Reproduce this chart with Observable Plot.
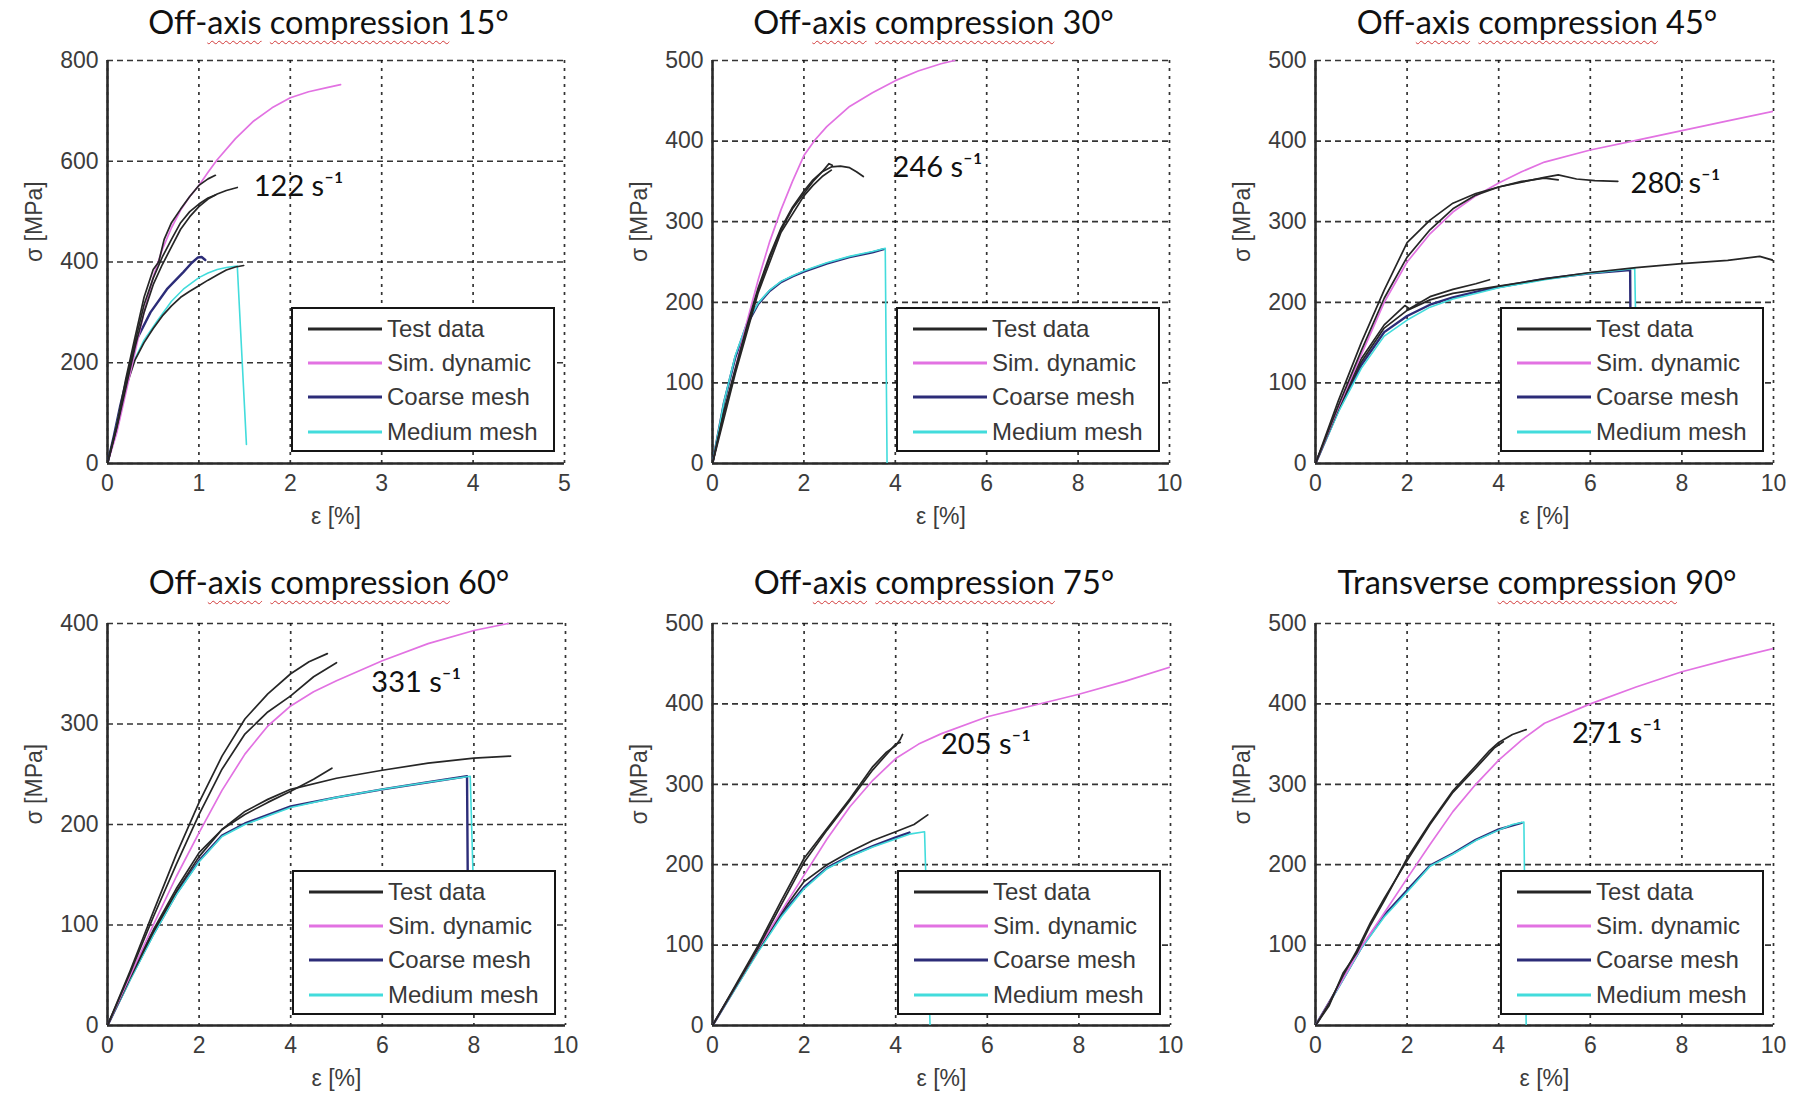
<!DOCTYPE html>
<html><head><meta charset="utf-8">
<script src="https://cdn.jsdelivr.net/npm/d3@7"></script>
<script src="https://cdn.jsdelivr.net/npm/@observablehq/plot@0.6"></script>
<style>
body{margin:0;background:#fff;}
#root{position:relative;width:1798px;height:1094px;overflow:hidden;background:#fff;}
.cell{position:absolute;}
.cell svg{overflow:visible;}
.title{position:absolute;font-family:Lato,"Open Sans",sans-serif;font-size:32.5px;color:#111;white-space:nowrap;transform:translate(-50%,-50%);line-height:1;}
.sq{text-decoration:underline wavy #d23a3a;text-decoration-thickness:1px;text-underline-offset:6px;}
.legend{position:absolute;background:#fff;border:2px solid #151515;box-sizing:border-box;}
.sw{position:absolute;height:3px;transform:translateY(-50%);}
.lt{position:absolute;font-family:"Liberation Sans",Arial,sans-serif;font-size:24px;color:#383838;transform:translateY(-50%);white-space:nowrap;line-height:1;}
</style>
</head><body><div id="root"></div>
<script>
// ---------- data ----------
const titles = ["Off-axis compression 15°","Off-axis compression 30°","Off-axis compression 45°",
                "Off-axis compression 60°","Off-axis compression 75°","Transverse compression 90°"];
const rateLabels = ["122 s⁻¹","246 s⁻¹","280 s⁻¹","331 s⁻¹","205 s⁻¹","271 s⁻¹"];
const rateX = [1.6, 3.94, 6.88, 5.76, 4.99, 5.6];
const rateY = [550, 367, 347, 341, 349, 363];
const xMax = [5, 10, 10, 10, 10, 10];
const yMax = [800, 500, 500, 400, 500, 500];
const xTicks5 = [0,1,2,3,4,5];
const xTicks10 = [0,2,4,6,8,10];
const yTicks800 = [0,200,400,600,800];
const yTicks500 = [0,100,200,300,400,500];
const yTicks400 = [0,100,200,300,400];
const seriesNames = ["Test data","Sim. dynamic","Coarse mesh","Medium mesh"];

// 15°
const p15_test1 = [[0,0],[0.1,75],[0.2,168],[0.3,250],[0.4,330],[0.5,385],[0.56,400],[0.62,445],[0.7,478],[0.8,505],[0.9,530],[1.0,552],[1.1,565],[1.18,572]];
const p15_test2 = [[0,0],[0.1,70],[0.2,150],[0.3,230],[0.4,300],[0.5,355],[0.6,395],[0.7,430],[0.8,465],[0.9,490],[1.0,510],[1.1,525],[1.2,535],[1.3,542],[1.42,548]];
const p15_test3 = [[0,0],[0.1,72],[0.2,158],[0.3,240],[0.4,315],[0.5,368],[0.6,410],[0.7,445],[0.8,478],[0.9,500],[1.0,515],[1.1,527],[1.18,533]];
const p15_test4 = [[0,0],[0.07,50],[0.14,105],[0.2,150],[0.3,205],[0.4,240],[0.5,268],[0.6,293],[0.7,313],[0.8,330],[0.9,342],[1.0,353],[1.1,364],[1.2,374],[1.3,384],[1.4,390],[1.49,393]];
const p15_sim = [[0,0],[0.1,60],[0.2,140],[0.3,220],[0.4,300],[0.5,370],[0.6,425],[0.7,468],[0.8,503],[0.9,530],[1.0,552],[1.1,578],[1.2,603],[1.4,645],[1.6,680],[1.8,706],[2.0,726],[2.2,738],[2.4,746],[2.55,752]];
const p15_coarse = [[0,0],[0.07,55],[0.14,115],[0.22,175],[0.32,246],[0.47,300],[0.65,346],[0.83,380],[0.92,398],[0.99,409],[1.03,410],[1.07,404]];
const p15_medium = [[0,0],[0.07,50],[0.14,110],[0.2,150],[0.28,200],[0.4,245],[0.54,282],[0.7,322],[0.83,346],[1.0,369],[1.1,378],[1.2,385],[1.3,389],[1.42,392],[1.52,38]];
// 30°
const p30_test1 = [[0,0],[0.25,65],[0.5,118],[0.75,170],[1.0,218],[1.25,258],[1.5,292],[1.75,318],[2.0,338],[2.2,352],[2.4,362],[2.6,368],[2.8,369],[3.0,367],[3.15,362],[3.3,356]];
const p30_test2 = [[0,0],[0.25,63],[0.5,115],[0.75,167],[1.0,215],[1.25,255],[1.5,290],[1.75,316],[2.0,335],[2.2,350],[2.4,362],[2.55,372],[2.62,370]];
const p30_test3 = [[0,0],[0.5,112],[1.0,212],[1.5,287],[2.0,332],[2.2,345],[2.4,356],[2.6,364]];
const p30_sim = [[0,0],[0.25,60],[0.5,118],[0.75,175],[1.0,228],[1.25,275],[1.5,315],[1.75,350],[2.0,382],[2.25,402],[2.5,418],[3.0,443],[3.5,460],[4.0,475],[4.5,487],[5.0,496],[5.3,500]];
const p30_coarse = [[0,0],[0.25,75],[0.5,132],[0.75,172],[1.0,198],[1.25,214],[1.5,225],[1.75,232],[2.0,238],[2.5,248],[3.0,256],[3.5,262],[3.75,266]];
const p30_medium = [[0,0],[0.25,76],[0.5,134],[0.75,174],[1.0,199],[1.25,215],[1.5,226],[1.75,233],[2.0,239],[2.5,249],[3.0,257],[3.5,263],[3.78,267],[3.82,0]];
// 45°
const p45_test1 = [[0,0],[0.5,78],[1.0,150],[1.5,215],[2.0,274],[2.5,302],[3.0,323],[3.5,335],[4.0,343],[4.5,349],[5.0,355],[5.3,358],[5.7,353],[6.1,351],[6.6,350]];
const p45_test2 = [[0,0],[0.5,72],[1.0,140],[1.5,205],[2.0,256],[2.5,290],[3.0,316],[3.5,333],[4.0,343],[4.5,350],[5.0,354],[5.3,352]];
const p45_test3 = [[0,0],[0.5,68],[1.0,126],[1.5,168],[2.0,190],[2.5,203],[3.0,211],[4.0,220],[5.0,229],[6.0,237],[7.0,243],[8.0,248],[9.0,252],[9.7,257],[10,252]];
const p45_test4 = [[0,0],[0.5,70],[1.0,130],[1.5,172],[1.95,196],[2.05,192],[2.5,207],[3.0,216],[3.5,223],[3.8,228]];
const p45_sim = [[0,0],[0.5,70],[1.0,135],[1.5,200],[2.0,250],[2.5,285],[3.0,312],[3.5,332],[4.0,348],[4.5,362],[5.0,374],[6.0,389],[7.0,401],[8.0,413],[9.0,425],[10,437]];
const p45_coarse = [[0,0],[0.5,66],[1.0,122],[1.5,163],[2.0,183],[2.5,197],[3.0,206],[3.5,213],[4.0,219],[5.0,229],[6.0,236],[6.87,240],[6.88,150]];
const p45_medium = [[0,0],[0.5,64],[1.0,118],[1.5,158],[2.0,178],[2.5,194],[3.0,204],[3.5,211],[4.0,218],[5.0,228],[6.0,236],[6.97,242],[7.0,150]];
// 60°
const p60_test1 = [[0,0],[0.5,55],[1.0,113],[1.5,170],[2.0,222],[2.5,268],[3.0,305],[3.5,330],[4.0,350],[4.4,362],[4.8,370]];
const p60_test2 = [[0,0],[0.5,53],[1.0,108],[1.5,160],[2.0,210],[2.5,255],[3.0,290],[3.5,312],[4.0,328],[4.5,347],[5.0,361]];
const p60_test3 = [[0,0],[0.5,50],[1.0,95],[1.5,136],[2.0,172],[2.5,195],[3.0,210],[3.5,222],[4.0,233],[4.5,245],[4.9,256]];
const p60_test4 = [[0,0],[0.5,48],[1.0,93],[1.5,133],[2.0,168],[2.5,195],[3.0,213],[3.5,225],[4.0,235],[5.0,246],[6.0,254],[7.0,261],[8.0,266],[8.8,268]];
const p60_sim = [[0,0],[0.5,50],[1.0,100],[1.5,148],[2.0,192],[2.5,234],[3.0,270],[3.5,298],[4.0,318],[4.5,332],[5.0,343],[6.0,363],[7.0,380],[8.0,393],[8.75,400]];
const p60_coarse = [[0,0],[0.5,47],[1.0,91],[1.5,131],[2.0,164],[2.5,189],[3.0,201],[4.0,218],[5.0,227],[6.0,235],[7.0,242],[7.85,248],[7.87,120]];
const p60_medium = [[0,0],[0.5,46],[1.0,90],[1.5,130],[2.0,163],[2.5,188],[3.0,200],[4.0,217],[5.0,227],[6.0,235],[7.0,242],[7.92,248],[8.0,120]];
// 75°
const p75_test1 = [[0,0],[0.5,50],[1.0,100],[1.5,155],[2.0,208],[2.5,245],[3.0,282],[3.5,322],[3.8,340],[4.0,348],[4.1,356],[4.15,362]];
const p75_test2 = [[0,0],[0.5,48],[1.0,97],[1.5,150],[2.0,203],[2.5,243],[3.0,280],[3.5,318],[4.0,350],[4.1,352]];
const p75_test3 = [[0,0],[0.5,48],[1.0,95],[1.5,140],[2.0,179],[2.5,200],[3.0,216],[3.5,230],[4.0,241],[4.4,250],[4.7,262]];
const p75_sim = [[0,0],[0.5,48],[1.0,96],[1.5,142],[2.0,187],[2.5,232],[3.0,272],[3.5,305],[4.0,332],[4.5,350],[5.0,363],[6.0,384],[7.0,398],[8.0,412],[9.0,428],[10,446]];
const p75_coarse = [[0,0],[0.5,47],[1.0,94],[1.5,137],[2.0,172],[2.5,196],[3.0,211],[3.5,223],[4.0,234],[4.3,240]];
const p75_medium = [[0,0],[0.5,46],[1.0,92],[1.5,135],[2.0,170],[2.5,195],[3.0,210],[3.5,222],[4.0,232],[4.3,238],[4.63,241],[4.75,0]];
// 90°
const p90_test1 = [[0,0],[0.3,25],[0.6,65],[0.9,90],[1.2,125],[1.5,155],[2.0,208],[2.5,252],[3.0,292],[3.5,323],[3.8,342],[4.0,352],[4.3,362],[4.6,368]];
const p90_test2 = [[0,0],[0.3,28],[0.6,62],[0.9,93],[1.2,128],[1.5,158],[2.0,205],[2.5,250],[3.0,290],[3.5,320],[3.9,345],[4.1,353]];
const p90_sim = [[0,0],[0.5,48],[1.0,98],[1.5,140],[2.0,183],[2.5,225],[3.0,266],[3.5,300],[4.0,330],[4.5,355],[5.0,376],[6.0,400],[7.0,421],[8.0,440],[9.0,455],[10,469]];
const p90_coarse = [[0,0],[0.5,48],[1.0,97],[1.5,137],[2.0,168],[2.5,199],[3.0,214],[3.5,231],[4.0,244],[4.5,252]];
const p90_medium = [[0,0],[0.5,47],[1.0,96],[1.5,135],[2.0,166],[2.5,198],[3.0,213],[3.5,230],[4.0,243],[4.3,250],[4.55,253],[4.6,0]];

// series index: 0 test, 1 sim, 2 coarse, 3 medium
const panelCurves = [
  [[2,p15_coarse],[3,p15_medium],[0,p15_test4],[1,p15_sim],[0,p15_test1],[0,p15_test2],[0,p15_test3]],
  [[2,p30_coarse],[3,p30_medium],[1,p30_sim],[0,p30_test1],[0,p30_test2],[0,p30_test3]],
  [[2,p45_coarse],[3,p45_medium],[0,p45_test3],[0,p45_test4],[1,p45_sim],[0,p45_test1],[0,p45_test2]],
  [[2,p60_coarse],[3,p60_medium],[0,p60_test3],[0,p60_test4],[1,p60_sim],[0,p60_test1],[0,p60_test2]],
  [[2,p75_coarse],[3,p75_medium],[0,p75_test3],[1,p75_sim],[0,p75_test1],[0,p75_test2]],
  [[2,p90_coarse],[3,p90_medium],[1,p90_sim],[0,p90_test1],[0,p90_test2]]
];
const panelXTicks = [xTicks5, xTicks10, xTicks10, xTicks10, xTicks10, xTicks10];
const panelYTicks = [yTicks800, yTicks500, yTicks500, yTicks400, yTicks500, yTicks500];

// ---------- styles & layout ----------
const seriesColors = ["#262626", "#e272e2", "#2c2c78", "#42dcdc"];
const seriesWidths = [1.7, 1.7, 2.4, 1.6];
const cellLeft = [0, 600, 1200, 0, 600, 1200];
const cellTop = [0, 0, 0, 547, 547, 547];
const cellW = [600, 600, 598, 600, 600, 598];
const cellH = 547;
const mL = [107, 112, 115, 107, 112, 115];
const mR = [36, 31, 25, 35, 30, 25];
const mT = [60, 60, 60, 76, 76, 76];
const mB = [84, 84, 84, 69, 69, 69];
const titleY = [22, 22, 22, 582, 582, 582];

const root = document.getElementById("root");
const font = "Liberation Sans, Arial, sans-serif";

for (let i = 0; i < 6; i++) {
  const cell = document.createElement("div");
  cell.className = "cell";
  cell.style.left = cellLeft[i] + "px";
  cell.style.top = cellTop[i] + "px";
  cell.style.width = cellW[i] + "px";
  cell.style.height = cellH + "px";
  root.appendChild(cell);

  const xt = panelXTicks[i], yt = panelYTicks[i];
  const marks = [
    Plot.gridY(yt, {stroke: "#111", strokeOpacity: 0.85, strokeWidth: 1.7, strokeDasharray: "6,4"}),
    Plot.gridX(xt, {stroke: "#111", strokeOpacity: 0.85, strokeWidth: 1.7, strokeDasharray: "3,5"}),
    Plot.ruleX([0], {stroke: "#2a2a2a", strokeWidth: 2.6}),
    Plot.ruleY([0], {stroke: "#2a2a2a", strokeWidth: 2.6})
  ];
  for (const [s, pts] of panelCurves[i]) {
    marks.push(Plot.line(pts, {x: d => d[0], y: d => d[1], stroke: seriesColors[s], strokeWidth: seriesWidths[s], clip: true}));
  }
  marks.push(
    Plot.text([{x: rateX[i], y: rateY[i], t: rateLabels[i]}], {x: "x", y: "y", text: "t", textAnchor: "start", lineAnchor: "middle",
      fontSize: 29, fontFamily: "Lato, 'Noto Sans', sans-serif", fill: "#111"}),
    Plot.axisX(xt, {tickSize: 0, tickPadding: 11, fontSize: 23, fill: "#3c3c3c", label: null, tickFormat: d => String(d)}),
    Plot.axisY(yt, {tickSize: 0, tickPadding: 9, fontSize: 23, fill: "#3c3c3c", label: null, tickFormat: d => String(d)}),
    Plot.text(["ε [%]"], {text: d => d, frameAnchor: "bottom", dy: 60, fontSize: 23, fill: "#3c3c3c", fontFamily: font}),
    Plot.text(["σ [MPa]"], {text: d => d, frameAnchor: "left", dx: -73, rotate: -90, fontSize: 23, fill: "#3c3c3c", fontFamily: font})
  );

  const svg = Plot.plot({
    width: cellW[i], height: cellH,
    marginLeft: mL[i], marginRight: mR[i], marginTop: mT[i], marginBottom: mB[i],
    x: {domain: [0, xMax[i]]},
    y: {domain: [0, yMax[i]]},
    style: {fontFamily: font, fontSize: "23px", color: "#3c3c3c", background: "transparent", overflow: "visible"},
    marks
  });
  svg.style.position = "absolute";
  svg.style.left = "0px";
  svg.style.top = "0px";
  cell.appendChild(svg);

  // title (HTML, with the spell-check squiggles of the source)
  const t = document.createElement("div");
  t.className = "title";
  t.innerHTML = titles[i].replace("axis", '<span class="sq">axis</span>').replace("compression", '<span class="sq">compression</span>');
  const frameW = cellW[i] - mL[i] - mR[i];
  t.style.left = (cellLeft[i] + mL[i] + frameW / 2 - 7) + "px";
  t.style.top = titleY[i] + "px";
  root.appendChild(t);

  // legend (MATLAB style, south-east inside the axes)
  const lg = document.createElement("div");
  lg.className = "legend";
  const lw = 264, lh = 145;
  lg.style.width = lw + "px";
  lg.style.height = lh + "px";
  lg.style.left = (cellW[i] - mR[i] - 9 - lw) + "px";
  lg.style.top = (mT[i] + 247) + "px";
  const rowY = [20, 54, 88, 123];
  seriesNames.forEach((name, k) => {
    const sw = document.createElement("div");
    sw.className = "sw";
    sw.style.left = "15px";
    sw.style.width = "74px";
    sw.style.top = rowY[k] + "px";
    sw.style.background = seriesColors[k];
    lg.appendChild(sw);
    const tx = document.createElement("div");
    tx.className = "lt";
    tx.style.left = "94px";
    tx.style.top = rowY[k] + "px";
    tx.textContent = name;
    lg.appendChild(tx);
  });
  cell.appendChild(lg);
}
</script>
</body></html>
